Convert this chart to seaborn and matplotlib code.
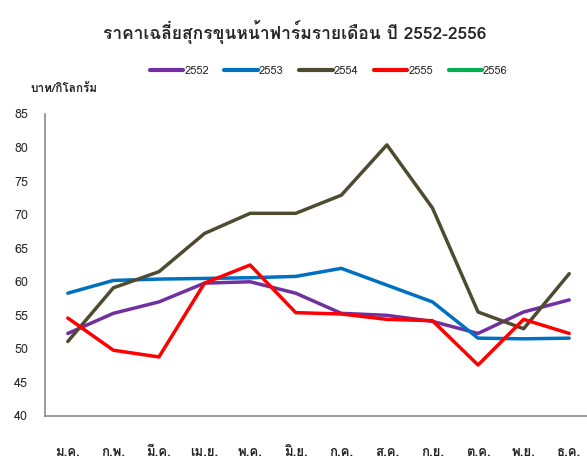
import numpy as np
import pandas as pd
import seaborn as sns
import matplotlib.pyplot as plt
from matplotlib import font_manager
from matplotlib.ft2font import FT2Font
from matplotlib.lines import Line2D

months = ["ม.ค.", "ก.พ.", "มี.ค.", "เม.ย.", "พ.ค.", "มิ.ย.",
          "ก.ค.", "ส.ค.", "ก.ย.", "ต.ค.", "พ.ย.", "ธ.ค."]
years = ["2552", "2553", "2554", "2555", "2556"]
price_2552 = [52.3, 55.3, 57.0, 59.8, 60.0, 58.3, 55.3, 55.0, 54.1, 52.3, 55.5, 57.3]
price_2553 = [58.3, 60.2, 60.4, 60.5, 60.6, 60.8, 62.0, 59.5, 57.0, 51.6, 51.5, 51.6]
price_2554 = [51.1, 59.1, 61.5, 67.2, 70.2, 70.2, 72.9, 80.4, 71.0, 55.5, 53.0, 61.2]
price_2555 = [54.6, 49.8, 48.8, 59.8, 62.5, 55.4, 55.2, 54.4, 54.2, 47.6, 54.4, 52.3]
colors = {"2552": "#7030A0", "2553": "#0070C0", "2554": "#4F4B30",
          "2555": "#FF0000", "2556": "#00B050"}


def thai_font():
    # first installed family that carries Thai glyphs
    for f in font_manager.fontManager.ttflist:
        try:
            if 0x0E01 in FT2Font(f.fname).get_charmap():
                return f.name
        except Exception:
            pass
    return "DejaVu Sans"


df = pd.DataFrame({
    "month": months * 4,
    "x": list(range(12)) * 4,
    "price": price_2552 + price_2553 + price_2554 + price_2555,
    "year": ["2552"] * 12 + ["2553"] * 12 + ["2554"] * 12 + ["2555"] * 12,
})

sns.set_style("white")
plt.rcParams["font.family"] = [thai_font(), "DejaVu Sans"]

fig = plt.figure(figsize=(5.87, 4.68), dpi=100)
ax = fig.add_axes([45 / 587, 52 / 468, 547 / 587, 302 / 468])
sns.lineplot(data=df, x="x", y="price", hue="year", palette=colors,
             linewidth=2.5, ax=ax, legend=False)

ax.set_xlim(-0.5, 11.5)
ax.set_ylim(40, 85)
ax.set_yticks(np.arange(40, 86, 5))
ax.set_xticks(range(12))
ax.set_xticklabels(months, fontsize=9.5, fontweight="bold")
ax.tick_params(axis="x", length=0, pad=22)
ax.tick_params(axis="y", length=0, pad=12, labelsize=9)
ax.set_xlabel("")
ax.set_ylabel("")
for s in ["top", "right"]:
    ax.spines[s].set_visible(False)
for s in ["left", "bottom"]:
    ax.spines[s].set_color("#8C8C8C")
    ax.spines[s].set_linewidth(1.2)

fig.text(0.502, 1 - 32 / 468, "ราคาเฉลี่ยสุกรขุนหน้าฟาร์มรายเดือน ปี 2552-2556",
         ha="center", va="center", fontsize=12.5, fontweight="bold")
fig.text(30 / 587, 1 - 88 / 468, "บาท/กิโลกรัม", ha="left", va="center",
         fontsize=8.5, fontweight="bold")

handles = [Line2D([], [], color=colors[y], linewidth=3) for y in years]
fig.legend(handles, years, loc="center", bbox_to_anchor=(0.56, 1 - 71 / 468),
           ncol=5, frameon=False, fontsize=8, handlelength=3.0,
           handletextpad=0.1, columnspacing=1.4)

fig.savefig("out.png", dpi=100)
